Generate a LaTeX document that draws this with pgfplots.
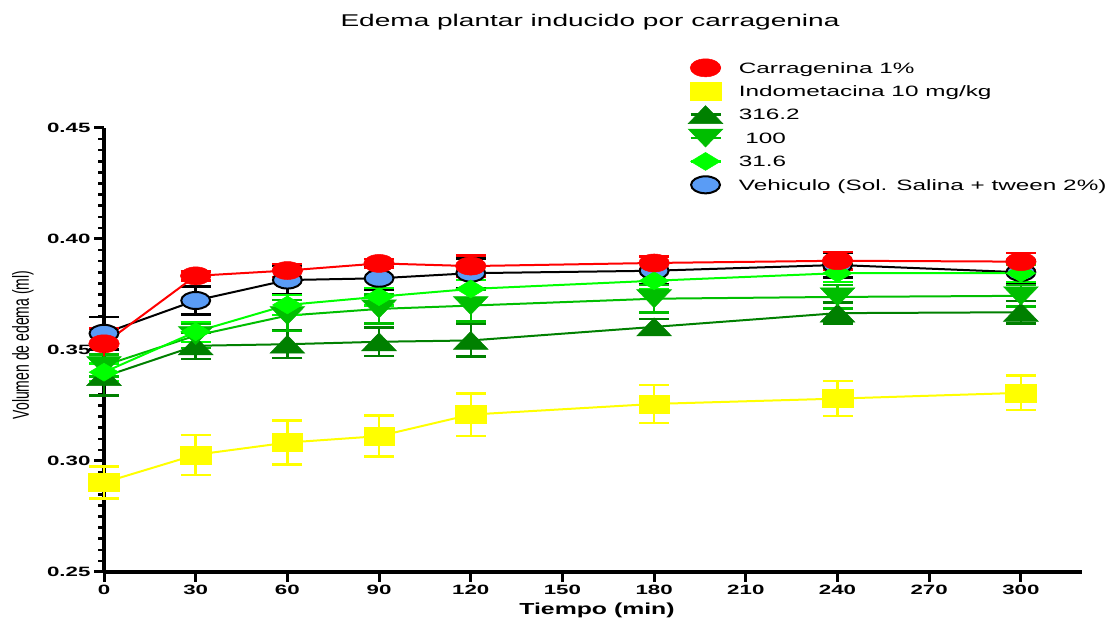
\documentclass[border=0pt]{standalone}
\usepackage{pgfplots}
\pgfplotsset{compat=1.18}
\usepackage{pgfplotstable}
\usepackage{fontspec}
\setmainfont{Liberation Sans}
\usepackage{graphicx}
\newcommand\sx[1]{\scalebox{1.65}[1]{#1}}
\newcommand\slg[1]{\scalebox{1.62}[1]{#1}}

\definecolor{cdg}{RGB}{0,128,0}
\definecolor{cmg}{RGB}{0,190,0}
\definecolor{clg}{RGB}{0,255,0}
\definecolor{cbl}{RGB}{90,156,245}
\definecolor{cyl}{RGB}{255,255,0}
\definecolor{crd}{RGB}{255,0,0}

\pgfplotstableread{
x y e
0 0.3575 0.0073
30 0.3723 0.0064
60 0.3815 0.0065
90 0.3823 0.0050
120 0.3846 0.0067
180 0.3857 0.0062
240 0.3883 0.0057
300 0.3850 0.0052
}\tblVeh
\pgfplotstableread{
x y e
0 0.3528 0.0068
30 0.3834 0.0020
60 0.3858 0.0030
90 0.3890 0.0020
120 0.3878 0.0047
180 0.3892 0.0030
240 0.3902 0.0040
300 0.3898 0.0040
}\tblCar
\pgfplotstableread{
x y e
0 0.2903 0.0073
30 0.3028 0.0090
60 0.3083 0.0099
90 0.3112 0.0092
120 0.3209 0.0096
180 0.3257 0.0085
240 0.3281 0.0079
300 0.3307 0.0077
}\tblInd
\pgfplotstableread{
x y e
0 0.3380 0.0085
30 0.3519 0.0060
60 0.3526 0.0062
90 0.3537 0.0065
120 0.3543 0.0073
180 0.3604 0.0035
240 0.3666 0.0047
300 0.3670 0.0051
}\tblA
\pgfplotstableread{
x y e
0 0.3430 0.0050
30 0.3565 0.0055
60 0.3655 0.0070
90 0.3685 0.0065
120 0.3700 0.0072
180 0.3731 0.0061
240 0.3739 0.0053
300 0.3744 0.0049
}\tblB
\pgfplotstableread{
x y e
0 0.3400 0.0040
30 0.3582 0.0045
60 0.3703 0.0045
90 0.3740 0.0040
120 0.3775 0.0040
180 0.3812 0.0040
240 0.3846 0.0040
300 0.3846 0.0040
}\tblC

\pgfplotsset{
 ebar/.style={error bars/.cd, y dir=both, y explicit,
   error bar style={line width=2.5pt},
   error mark options={rotate=90, line width=2.5pt, mark size=15pt}, /pgfplots/.cd},
 mcirc/.style={mark=*, mark size=9pt, mark options={xscale=1.7, line width=0.5pt, solid}},
 mveh/.style={mark=*, mark size=8.5pt, mark options={xscale=1.7, fill=cbl, draw=black, line width=2pt, solid}},
 msq/.style={mark=square*, mark size=9pt, mark options={xscale=1.7, line width=0.5pt, solid}},
 mup/.style={mark=triangle*, mark size=12pt, mark options={yshift=-3pt, xscale=1.67, line width=0.5pt, solid}},
 mdn/.style={mark=triangle*, mark size=12pt, mark options={yshift=3pt, rotate=180, xscale=1.67, line width=0.5pt, solid}},
 mdia/.style={mark=diamond*, mark size=9pt, mark options={xscale=2.2, line width=0.5pt, solid}},
}

\begin{document}
\begin{tikzpicture}[x=1pt,y=1pt]
\useasboundingbox (0,0) rectangle (1111,620);
\node[font=\fontsize{17}{20}\selectfont] at (590,598) {\sx{Edema plantar inducido por carragenina}};
\node[font=\fontsize{16}{19}\selectfont\bfseries, anchor=base] at (597,5) {\scalebox{1.55}[1]{Tiempo (min)}};
\node[font=\fontsize{14}{17}\selectfont, rotate=90] at (23,275) {\scalebox{1}[1.65]{Volumen de edema (ml)}};
\begin{axis}[
 scale only axis, width=978pt, height=444pt,
 at={(104pt,48pt)}, anchor=south west,
 xmin=0, xmax=320, ymin=0.25, ymax=0.45,
 axis x line*=bottom, axis y line*=left,
 axis line style={line width=3.5pt, -},
 xtick={0,30,...,300}, ytick={0.25,0.30,0.35,0.40,0.45},
 minor y tick num=9,
 tick align=outside, major tick length=10pt, minor tick length=6pt,
 major tick style={line width=3pt, black},
 minor tick style={line width=2.5pt, black},
 /pgf/number format/assume math mode=true,
 xticklabel={\sx{\pgfmathprintnumber{\tick}}},
 yticklabel={\sx{\pgfmathprintnumber[fixed,fixed zerofill,precision=2]{\tick}}},
 ticklabel style={font=\fontsize{13.5}{16}\selectfont\bfseries},
 clip=false,
 legend image code/.code={\path[draw=none,fill=none] (-15pt,-10pt) rectangle (15pt,10pt);
   \draw[#1, mark repeat=2, mark phase=2] plot coordinates {(-15pt,0pt) (0pt,0pt) (15pt,0pt)};},
 legend style={at={(0.5971,1.1585)}, anchor=north west, draw=none, fill=none,
   inner sep=0pt, row sep=3.4pt, column sep=14pt,
   font=\fontsize{15}{18}\selectfont,
   nodes={inner sep=2pt, text height=10.7pt, text depth=0pt}},
 legend cell align=left,
]
\addplot[black, line width=2pt, mveh, forget plot, ebar] table[x=x,y=y,y error=e] \tblVeh;
\addplot[cdg, line width=2pt, mup, forget plot, ebar] table[x=x,y=y,y error=e] \tblA;
\addplot[cmg, line width=2pt, mdn, forget plot, ebar] table[x=x,y=y,y error=e] \tblB;
\addplot[clg, line width=2pt, mdia, forget plot, ebar] table[x=x,y=y,y error=e] \tblC;
\addplot[cyl, line width=2pt, msq, forget plot, ebar] table[x=x,y=y,y error=e] \tblInd;
\addplot[crd, line width=2pt, mcirc, forget plot, ebar] table[x=x,y=y,y error=e] \tblCar;

\addlegendimage{crd, line width=2.5pt, mcirc}
\addlegendentry{\slg{Carragenina 1\%}}
\addlegendimage{cyl, line width=2.5pt, msq}
\addlegendentry{\slg{Indometacina 10 mg/kg}}
\addlegendimage{cdg, line width=2.5pt, mup}
\addlegendentry{\slg{316.2}}
\addlegendimage{cmg, line width=2.5pt, mdn}
\addlegendentry{\slg{\hspace{4pt}100}}
\addlegendimage{clg, line width=2.5pt, mdia}
\addlegendentry{\slg{31.6}}
\addlegendimage{black, line width=2.5pt, mveh}
\addlegendentry{\slg{Vehiculo (Sol. Salina + tween 2\%)}}
\end{axis}
\end{tikzpicture}
\end{document}
